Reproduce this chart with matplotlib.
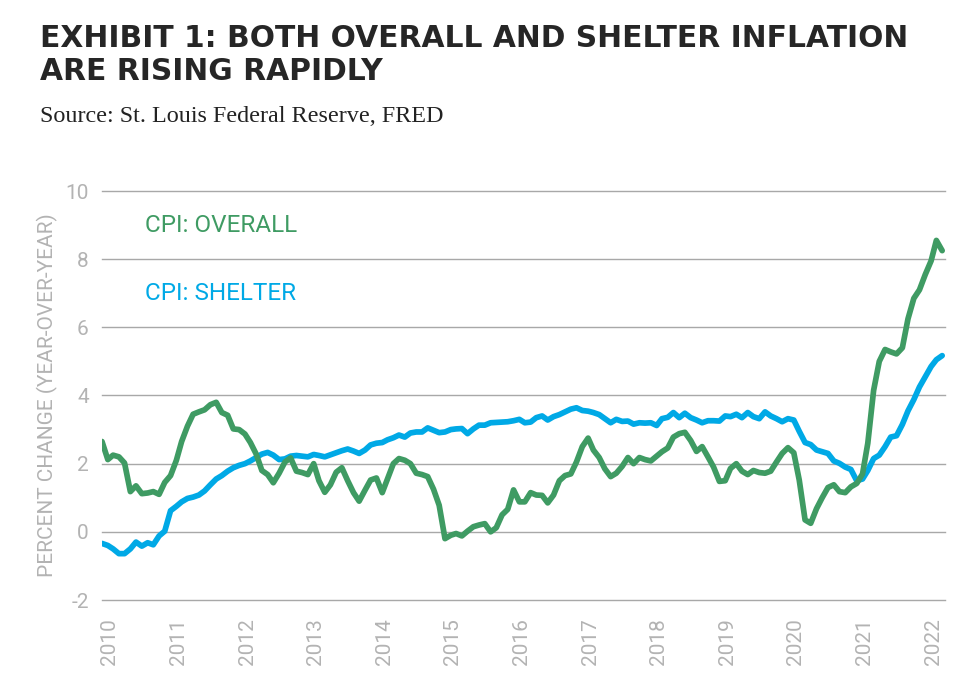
import numpy as np
import pandas as pd
import matplotlib
matplotlib.use("Agg")
import matplotlib.pyplot as plt
import matplotlib.dates as mdates
from matplotlib.transforms import ScaledTranslation

plt.rcParams["axes.unicode_minus"] = False

# CPI year-over-year % change, monthly, Jan 2010 - Apr 2022
cpi_overall = [
    2.65, 2.12, 2.25, 2.20, 2.02, 1.18, 1.35, 1.12, 1.14, 1.18, 1.10, 1.45,
    1.65, 2.10, 2.65, 3.10, 3.45, 3.52, 3.58, 3.73, 3.80, 3.50, 3.42, 3.02,
    3.00, 2.87, 2.62, 2.28, 1.80, 1.68, 1.44, 1.72, 2.05, 2.17, 1.78, 1.74,
    1.68, 2.00, 1.50, 1.16, 1.38, 1.75, 1.88, 1.50, 1.15, 0.90, 1.22, 1.52,
    1.58, 1.15, 1.55, 2.00, 2.15, 2.10, 2.00, 1.72, 1.68, 1.62, 1.25, 0.78,
    -0.20, -0.10, -0.05, -0.12, 0.02, 0.15, 0.20, 0.24, 0.00, 0.12, 0.50, 0.66,
    1.23, 0.88, 0.88, 1.15, 1.08, 1.07, 0.85, 1.08, 1.50, 1.65, 1.70, 2.05,
    2.50, 2.75, 2.40, 2.18, 1.85, 1.62, 1.72, 1.92, 2.18, 2.00, 2.18, 2.12,
    2.08, 2.22, 2.35, 2.46, 2.78, 2.88, 2.92, 2.68, 2.36, 2.50, 2.20, 1.90,
    1.48, 1.50, 1.86, 2.00, 1.78, 1.68, 1.80, 1.74, 1.72, 1.78, 2.05, 2.30,
    2.47, 2.32, 1.52, 0.35, 0.25, 0.68, 1.00, 1.30, 1.38, 1.18, 1.15, 1.32,
    1.42, 1.70, 2.60, 4.15, 5.00, 5.35, 5.28, 5.22, 5.40, 6.25, 6.85, 7.10,
    7.55, 7.95, 8.55, 8.25,
]
cpi_shelter = [
    -0.34, -0.40, -0.50, -0.64, -0.64, -0.50, -0.30, -0.42, -0.32, -0.38, -0.12, 0.02,
    0.62, 0.75, 0.88, 0.98, 1.02, 1.08, 1.20, 1.38, 1.55, 1.65, 1.78, 1.88,
    1.95, 2.00, 2.08, 2.18, 2.28, 2.33, 2.25, 2.12, 2.14, 2.22, 2.24, 2.22,
    2.20, 2.27, 2.24, 2.20, 2.26, 2.32, 2.38, 2.43, 2.37, 2.30, 2.40, 2.55,
    2.60, 2.62, 2.70, 2.76, 2.84, 2.78, 2.90, 2.93, 2.93, 3.05, 2.98, 2.91,
    2.93, 3.00, 3.02, 3.03, 2.88, 3.02, 3.13, 3.13, 3.20, 3.21, 3.22, 3.23,
    3.26, 3.30, 3.20, 3.22, 3.35, 3.40, 3.28, 3.38, 3.44, 3.52, 3.60, 3.64,
    3.56, 3.54, 3.50, 3.44, 3.32, 3.20, 3.30, 3.24, 3.25, 3.16, 3.20, 3.19,
    3.20, 3.12, 3.32, 3.36, 3.50, 3.35, 3.48, 3.35, 3.28, 3.20, 3.26, 3.26,
    3.25, 3.40, 3.38, 3.45, 3.35, 3.50, 3.38, 3.32, 3.52, 3.40, 3.32, 3.23,
    3.32, 3.28, 2.95, 2.62, 2.56, 2.40, 2.35, 2.30, 2.08, 2.01, 1.90, 1.83,
    1.50, 1.55, 1.80, 2.15, 2.25, 2.50, 2.78, 2.82, 3.15, 3.55, 3.88, 4.25,
    4.55, 4.85, 5.05, 5.17,
]
start_month = "2010-01-01"
y_ticks = [-2, 0, 2, 4, 6, 8, 10]

GREEN = "#3f9b63"
BLUE = "#00a9e6"
GREY_TXT = "#b3b3b3"
GREY_GRID = "#a8a8a8"

dates = pd.date_range(start_month, periods=len(cpi_overall), freq="MS")

fig = plt.figure(figsize=(9.64, 6.96), dpi=100)
ax = fig.add_axes([102 / 964, 1 - 600 / 696, 843 / 964, 409 / 696])

ax.plot(dates, cpi_shelter, color=BLUE, lw=4.1, solid_capstyle="round", solid_joinstyle="round")
ax.plot(dates, cpi_overall, color=GREEN, lw=4.1, solid_capstyle="round", solid_joinstyle="round")

ax.set_ylim(-2, 10)
ax.set_yticks(y_ticks)
ax.set_xlim(dates[0], dates[-1] + pd.Timedelta(days=15))
ax.xaxis.set_major_locator(mdates.YearLocator())
ax.xaxis.set_major_formatter(mdates.DateFormatter("%Y"))

ax.grid(axis="y", color=GREY_GRID, lw=1.0)
ax.set_axisbelow(True)
for gl in ax.get_ygridlines():
    gl.set_clip_on(False)
for s in ax.spines.values():
    s.set_visible(False)
ax.tick_params(length=0, colors=GREY_TXT, labelsize=15)
ax.tick_params(axis="y", pad=9.5)
ax.tick_params(axis="x", pad=13)
for lab in ax.get_xticklabels():
    lab.set_rotation(90)
    lab.set_fontfamily("Roboto")
    lab.set_transform(lab.get_transform() + ScaledTranslation(0.08, 0, fig.dpi_scale_trans))
for lab in ax.get_yticklabels():
    lab.set_fontfamily("Roboto")

ax.set_ylabel("PERCENT CHANGE (YEAR-OVER-YEAR)", color=GREY_TXT, fontsize=15,
              family="Roboto", va="center")
ax.yaxis.set_label_coords(-0.0647, 0.5)

# series labels
ax.text(0.051, 11 / 12, "CPI: OVERALL", transform=ax.transAxes, color=GREEN,
        fontsize=17.5, family="Roboto", va="center", ha="left")
ax.text(0.051, 9 / 12, "CPI: SHELTER", transform=ax.transAxes, color=BLUE,
        fontsize=17.5, family="Roboto", va="center", ha="left")

# title block
fig.text(40 / 964, 1 - 47.3 / 696, "EXHIBIT 1: BOTH OVERALL AND SHELTER INFLATION",
         fontsize=21.4, family="DejaVu Sans", weight="bold", color="#262626", va="baseline")
fig.text(40 / 964, 1 - 80 / 696, "ARE RISING RAPIDLY",
         fontsize=21.4, family="DejaVu Sans", weight="bold", color="#262626", va="baseline")
fig.text(40 / 964, 1 - 122 / 696, "Source: St. Louis Federal Reserve, FRED",
         fontsize=17.4, family="Liberation Serif", color="#222222", va="baseline")

fig.savefig("out.png", dpi=100)
